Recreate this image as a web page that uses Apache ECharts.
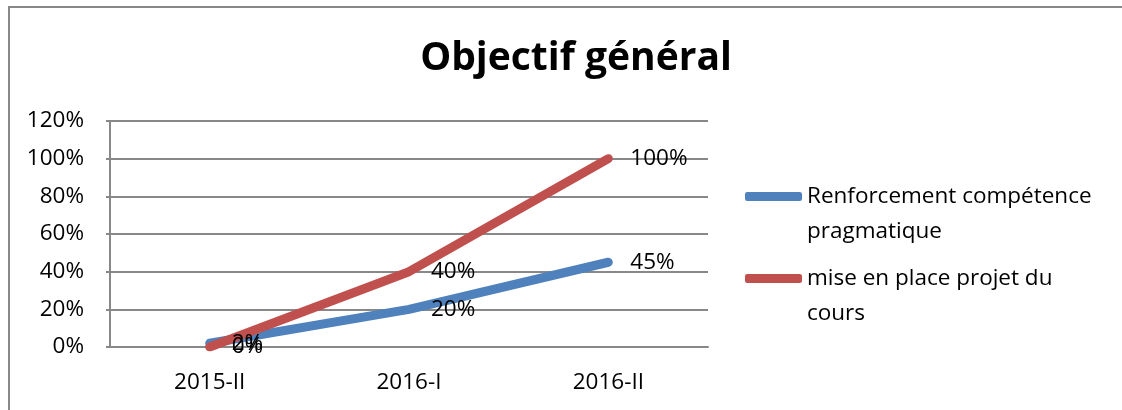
<!DOCTYPE html>
<html><head><meta charset="utf-8">
<script src="https://cdn.jsdelivr.net/npm/echarts@6/dist/echarts.min.js"></script>
<style>
html,body{margin:0;padding:0;background:#fff;overflow:hidden}
#frame{position:absolute;left:8px;top:6px;width:1200px;height:500px;border-left:2px solid #888;border-top:2px solid #888;box-sizing:border-box}
#c{position:absolute;left:0;top:0;width:1122px;height:410px}
</style></head>
<body>
<div id="frame"></div>
<div id="c"></div>
<script>
const categories = ['2015-II', '2016-I', '2016-II'];
const seriesNames = ['Renforcement compétence pragmatique', 'mise en place projet du cours'];
const legendLines = [['Renforcement compétence', 'pragmatique'], ['mise en place projet du', 'cours']];
const blueValues = [0.02, 0.20, 0.45];
const redValues = [0.00, 0.40, 1.00];
const yTicks = [0, 0.2, 0.4, 0.6, 0.8, 1.0, 1.2];
const titleText = 'Objectif général';

const FONT = 'Open Sans';
const FS = 22.5;
const L = 35;
const chart = echarts.init(document.getElementById('c'));
const pct = v => Math.round(v * 100) + '%';
function mkSeries(name, data, color) {
  return {
    name, type: 'line', data, symbol: 'circle', showSymbol: true, symbolSize: 0,
    lineStyle: { color, width: 9, cap: 'round', join: 'round' },
    itemStyle: { color },
    label: { show: true, position: 'right', distance: 22, color: '#000', fontFamily: FONT, fontSize: FS,
      formatter: p => pct(p.value) },
    z: 3
  };
}
function mkLegend(i, top) {
  return {
    orient: 'vertical', left: 745, top, data: [seriesNames[i]], padding: 0,
    itemWidth: 57, itemHeight: 9, itemGap: 0,
    icon: 'roundRect',
    formatter: () => '\n' + legendLines[i].join('\n'),
    textStyle: { fontFamily: FONT, fontSize: FS, color: '#000', lineHeight: L }
  };
}
chart.setOption({
  animation: false,
  title: { text: titleText, left: 571, top: 34, textAlign: 'center',
    textStyle: { fontFamily: FONT, fontWeight: 'bold', fontSize: 39, color: '#000' } },
  legend: [mkLegend(0, 144), mkLegend(1, 226)],
  grid: { left: 110, right: 414, top: 121, bottom: 63 },
  xAxis: {
    type: 'category', data: categories, boundaryGap: true,
    axisLine: { lineStyle: { color: '#888', width: 2 } },
    axisTick: { show: false },
    axisLabel: { color: '#000', fontFamily: FONT, fontSize: FS, margin: 24 }
  },
  yAxis: {
    type: 'value', min: 0, max: 1.2, interval: 0.2,
    axisLine: { show: true, lineStyle: { color: '#888', width: 2 } },
    axisTick: { show: true, length: 4, lineStyle: { color: '#888', width: 2 } },
    splitLine: { lineStyle: { color: '#888', width: 2 } },
    axisLabel: { color: '#000', fontFamily: FONT, fontSize: FS, margin: 26,
      formatter: v => { const t = yTicks.find(x => Math.abs(x - v) < 1e-9); return pct(t === undefined ? v : t); } }
  },
  series: [mkSeries(seriesNames[0], blueValues, '#4F81BD'), mkSeries(seriesNames[1], redValues, '#C0504D')]
});
</script>
</body></html>
